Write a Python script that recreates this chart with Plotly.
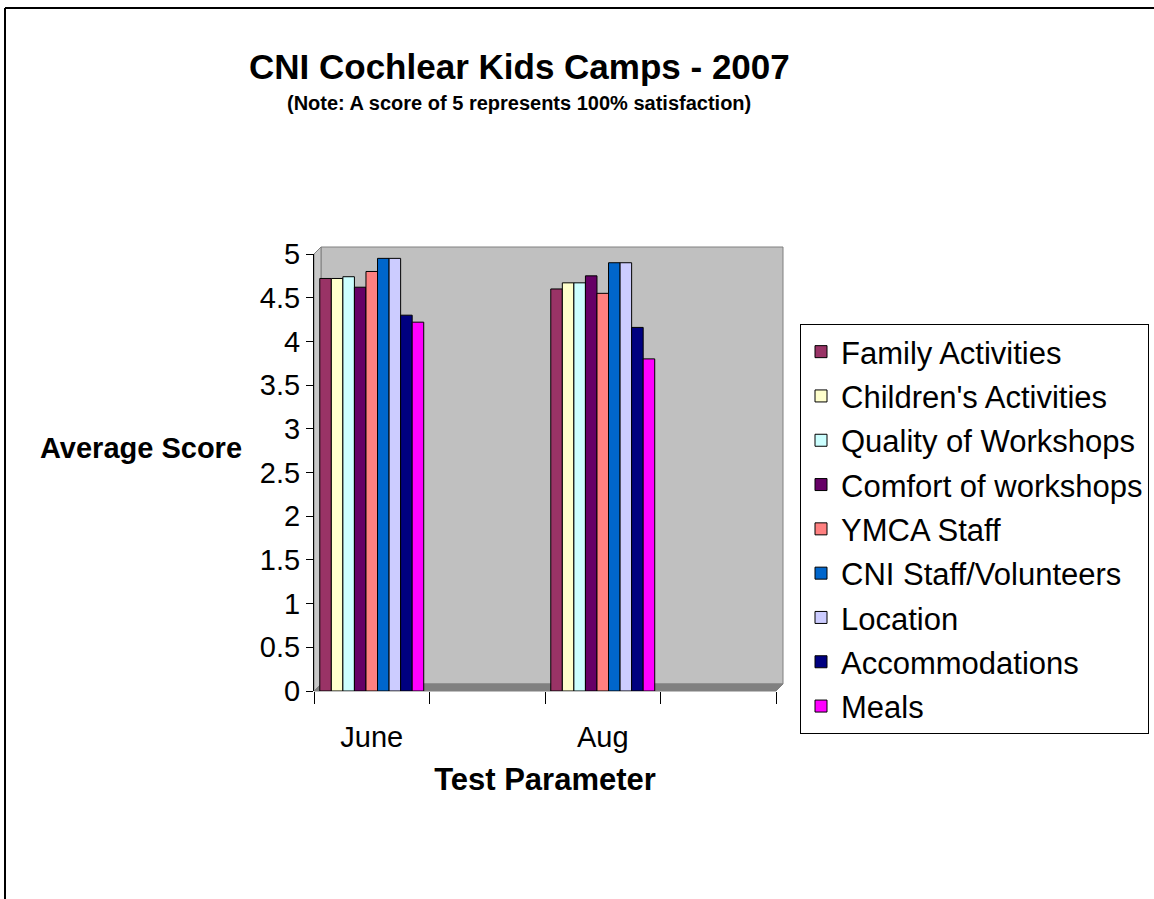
import plotly.graph_objects as go

# data
months = ["June", " ", "Aug", "  "]
series_names = [
    "Family Activities",
    "Children's Activities",
    "Quality of Workshops",
    "Comfort of workshops",
    "YMCA Staff",
    "CNI Staff/Volunteers",
    "Location",
    "Accommodations",
    "Meals",
]
june_scores = [4.72, 4.72, 4.74, 4.62, 4.80, 4.95, 4.95, 4.30, 4.22]
aug_scores = [4.60, 4.67, 4.67, 4.75, 4.55, 4.90, 4.90, 4.16, 3.80]
colors = ["#993366", "#FFFFCC", "#CCFFFF", "#660066", "#FF8080",
          "#0066CC", "#CCCCFF", "#000080", "#FF00FF"]

W, H = 1154, 899
ML, MR, MT, MB = 314, 378, 254, 208
PW, PH = W - ML - MR, H - MT - MB
FONT = "Arial, Liberation Sans, sans-serif"


def px_x(p):
    return (p - ML) / PW


def px_y(p):
    return (H - MB - p) / PH


fig = go.Figure()
for i, name in enumerate(series_names):
    fig.add_trace(go.Bar(
        x=[months[0], months[2]],
        y=[june_scores[i], aug_scores[i]],
        name=name,
        legendgroup=name,
        marker=dict(color=colors[i], line=dict(color="black", width=1)),
    ))

# pseudo-3D walls: back wall, left side wall, floor
dx, dy = 7 / PW, 7 / PH
shapes = [
    dict(type="rect", xref="paper", yref="paper", layer="below",
         x0=dx, y0=dy, x1=1 + dx, y1=1 + dy,
         fillcolor="#C0C0C0", line=dict(color="#808080", width=1)),
    dict(type="path", xref="paper", yref="paper", layer="below",
         path=f"M 0 0 L {dx} {dy} L {1 + dx} {dy} L 1 0 Z",
         fillcolor="#808080", line=dict(color="#808080", width=1)),
    dict(type="path", xref="paper", yref="paper", layer="below",
         path=f"M 0 0 L 0 1 L {dx} {1 + dy} L {dx} {dy} Z",
         fillcolor="#C8C8C8", line=dict(color="#808080", width=1)),
    # chart frame
    dict(type="line", xref="paper", yref="paper",
         x0=px_x(5), y0=px_y(8), x1=px_x(W + 5), y1=px_y(8),
         line=dict(color="black", width=2)),
    dict(type="line", xref="paper", yref="paper",
         x0=px_x(5), y0=px_y(8), x1=px_x(5), y1=px_y(H + 5),
         line=dict(color="black", width=2)),
]

annotations = [
    dict(text="<b>CNI Cochlear Kids Camps - 2007</b>", xref="paper", yref="paper",
         x=px_x(519), y=px_y(66), xanchor="center", yanchor="middle", showarrow=False,
         font=dict(size=35, color="black")),
    dict(text="<b>(Note: A score of 5 represents 100% satisfaction)</b>", xref="paper", yref="paper",
         x=px_x(519), y=px_y(103), xanchor="center", yanchor="middle", showarrow=False,
         font=dict(size=20, color="black")),
    dict(text="<b>Average Score</b>", xref="paper", yref="paper",
         x=px_x(244), y=px_y(448), xanchor="right", yanchor="middle", showarrow=False,
         font=dict(size=29, color="black")),
]

fig.update_layout(
    width=W, height=H,
    margin=dict(l=ML, r=MR, t=MT, b=MB, autoexpand=False),
    paper_bgcolor="white",
    plot_bgcolor="rgba(0,0,0,0)",
    font=dict(family=FONT, color="black", size=28),
    barmode="group",
    bargap=0.1,
    bargroupgap=0,
    shapes=shapes,
    annotations=annotations,
    legend=dict(
        x=px_x(800), y=px_y(324), xanchor="left", yanchor="top",
        xref="paper", yref="paper",
        bordercolor="black", borderwidth=1, bgcolor="white",
        font=dict(size=31), traceorder="grouped", tracegroupgap=1,
    ),
    xaxis=dict(
        type="category", categoryorder="array", categoryarray=months,
        range=[-0.5, 3.5], tickson="boundaries", ticks="outside", ticklen=12,
        tickcolor="black", showline=False, showgrid=False,
        tickfont=dict(size=29), ticklabelstandoff=26,
        title=dict(text="<b>Test Parameter</b>", font=dict(size=31), standoff=16),
    ),
    yaxis=dict(
        range=[0, 5], dtick=0.5, ticks="outside", ticklen=7, tickcolor="black",
        showline=True, linecolor="black", showgrid=False, zeroline=False,
        tickfont=dict(size=29),
    ),
)

fig.write_html("out.html", config={"displayModeBar": False},
               post_script="document.body.style.margin='0';")
